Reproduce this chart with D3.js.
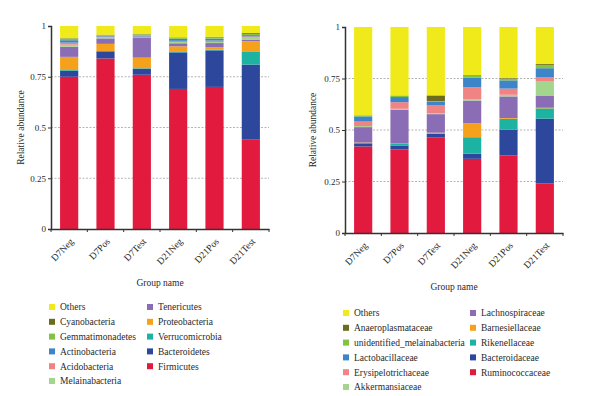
<!DOCTYPE html>
<html><head><meta charset="utf-8">
<script src="https://cdn.jsdelivr.net/npm/d3@7"></script>
<style>
html,body{margin:0;padding:0;background:#fff;}
svg text{font-family:"Liberation Serif","DejaVu Serif",serif;fill:#2a2a2a;}
</style></head>
<body><svg id="c" width="603" height="396"></svg>
<script>
const groups = ["D7Neg","D7Pos","D7Test","D21Neg","D21Pos","D21Test"];
const yTicks = [0, 0.25, 0.5, 0.75, 1];
const yTickLabels = ["0","0.25","0.5","0.75","1"];

// Left chart (phylum), bottom to top
const phylumNames = ["Firmicutes","Bacteroidetes","Verrucomicrobia","Proteobacteria","Tenericutes","Melainabacteria","Acidobacteria","Actinobacteria","Gemmatimonadetes","Cyanobacteria","Others"];
const firmicutes       = [0.750,0.840,0.760,0.690,0.700,0.440];
const bacteroidetes    = [0.030,0.035,0.030,0.180,0.180,0.370];
const verrucomicrobia  = [0.003,0.002,0.002,0.005,0.004,0.065];
const proteobacteria   = [0.065,0.035,0.052,0.025,0.012,0.050];
const tenericutes      = [0.050,0.027,0.100,0.015,0.020,0.008];
const melainabacteria  = [0.010,0.004,0.002,0.006,0.005,0.010];
const acidobacteria    = [0.010,0.005,0.002,0.006,0.007,0.006];
const actinobacteria   = [0.012,0.004,0.004,0.010,0.010,0.006];
const gemmatimonadetes = [0.008,0.003,0.006,0.005,0.006,0.005];
const cyanobacteria    = [0.002,0.002,0.002,0.002,0.003,0.005];
const othersPhylum     = [0.060,0.043,0.040,0.056,0.053,0.035];

// Right chart (family), bottom to top
const familyNames = ["Ruminococcaceae","Bacteroidaceae","Rikenellaceae","Barnesiellaceae","Lachnospiraceae","Akkermansiaceae","Erysipelotrichaceae","Lactobacillaceae","unidentified_melainabacteria","Anaeroplasmataceae","Others"];
const ruminococcaceae     = [0.420,0.405,0.463,0.360,0.377,0.240];
const bacteroidaceae      = [0.015,0.020,0.018,0.025,0.125,0.315];
const rikenellaceae       = [0.002,0.007,0.003,0.080,0.052,0.050];
const barnesiellaceae     = [0.002,0.002,0.003,0.068,0.004,0.003];
const lachnospiraceae     = [0.075,0.165,0.090,0.110,0.105,0.057];
const akkermansiaceae     = [0.005,0.004,0.004,0.005,0.008,0.070];
const erysipelotrichaceae = [0.022,0.032,0.040,0.060,0.030,0.022];
const lactobacillaceae    = [0.025,0.025,0.015,0.045,0.040,0.043];
const unidentifiedMelain  = [0.003,0.005,0.004,0.012,0.008,0.015];
const anaeroplasmataceae  = [0.002,0.002,0.028,0.002,0.003,0.005];
const othersFamily        = [0.429,0.333,0.332,0.233,0.248,0.180];

const colors = ["#e11a3e","#2d479c","#1db3a3","#f6a11c","#8a6db4","#a3d58c","#f08383","#3d84c8","#82c341","#6c6b1e","#f1ea1a"];

const phylumSeries = [firmicutes,bacteroidetes,verrucomicrobia,proteobacteria,tenericutes,melainabacteria,acidobacteria,actinobacteria,gemmatimonadetes,cyanobacteria,othersPhylum];
const familySeries = [ruminococcaceae,bacteroidaceae,rikenellaceae,barnesiellaceae,lachnospiraceae,akkermansiaceae,erysipelotrichaceae,lactobacillaceae,unidentifiedMelain,anaeroplasmataceae,othersFamily];

const svg = d3.select("#c");

function drawChart(cfg, names, series){
  const g = svg.append("g");
  const x = d3.scaleBand().domain(groups).range([cfg.x0, cfg.x1]).paddingInner(0.5).paddingOuter(0.25);
  const y = d3.scaleLinear().domain([0,1]).range([cfg.yb, cfg.yt]);
  const rows = groups.map((gname,i)=>{const o={group:gname}; names.forEach((n,k)=>o[n]=series[k][i]); return o;});
  const stack = d3.stack().keys(names)(rows);

  // grid
  g.selectAll("line.grid").data([0.25,0.5,0.75]).join("line")
    .attr("x1",cfg.x0).attr("x2",cfg.x1).attr("y1",d=>y(d)).attr("y2",d=>y(d))
    .attr("stroke","#b5b5b5").attr("stroke-width",1.2).attr("stroke-dasharray","2,1.5");

  // bars
  g.selectAll("g.layer").data(stack).join("g").attr("fill",(d,i)=>colors[i])
    .selectAll("rect").data(d=>d).join("rect")
    .attr("x",d=>x(d.data.group)).attr("width",x.bandwidth())
    .attr("y",d=>y(d[1])).attr("height",d=>y(d[0])-y(d[1]));

  // y axis
  const ya = d3.axisLeft(y).tickValues(yTicks).tickFormat((d,i)=>yTickLabels[i]).tickSize(3).tickPadding(2);
  const yg = g.append("g").attr("transform",`translate(${cfg.x0},0)`).call(ya);
  yg.select(".domain").attr("stroke","#333").attr("stroke-width",1.5);
  yg.selectAll(".tick line").attr("stroke","#333");
  yg.selectAll("text").attr("font-size",9).attr("fill","#2a2a2a");

  // x axis
  const xa = d3.axisBottom(x).tickSize(0).tickFormat("");
  const xg = g.append("g").attr("transform",`translate(0,${cfg.yb})`).call(xa);
  xg.select(".domain").attr("stroke","#333").attr("stroke-width",1.5);
  const bounds = groups.map(d=>x(d)-x.step()*x.paddingInner()/2).concat([cfg.x1]);
  xg.selectAll("line.bt").data(bounds).join("line").attr("x1",d=>d).attr("x2",d=>d)
    .attr("y1",0).attr("y2",3).attr("stroke","#333");
  xg.selectAll("text.lab").data(groups).join("text")
    .attr("transform",d=>`translate(${x(d)+x.bandwidth()/2+5},${13}) rotate(-46)`)
    .attr("text-anchor","end").attr("font-size",9.5).text(d=>d);

  // axis titles
  g.append("text").attr("transform",`translate(${cfg.ylabX},${(cfg.yb+cfg.yt)/2}) rotate(-90)`)
    .attr("text-anchor","middle").attr("font-size",9.5).text("Relative abundance");
  g.append("text").attr("x",(cfg.x0+cfg.x1)/2).attr("y",cfg.xlabY).attr("text-anchor","middle")
    .attr("font-size",9.5).text("Group name");

  // legend
  const legendNames = names.slice().reverse();
  const legendColors = colors.slice().reverse();
  legendNames.forEach((n,i)=>{
    const col = i<6?0:1, row = i<6?i:i-6;
    const lx = col===0?cfg.legX0:cfg.legX1;
    const ly = cfg.legY + row*14.8;
    g.append("rect").attr("x",lx).attr("y",ly-3).attr("width",6).attr("height",6).attr("fill",legendColors[i]);
    g.append("text").attr("x",lx+11).attr("y",ly+3.3).attr("font-size",9.5).text(n);
  });
}

drawChart({x0:51,x1:269,yt:26,yb:229,ylabX:24,xlabY:286,legX0:49,legX1:147,legY:307}, phylumNames, phylumSeries);
drawChart({x0:345,x1:563,yt:27,yb:233,ylabX:316,xlabY:290,legX0:343,legX1:470,legY:313}, familyNames, familySeries);
</script></body></html>
